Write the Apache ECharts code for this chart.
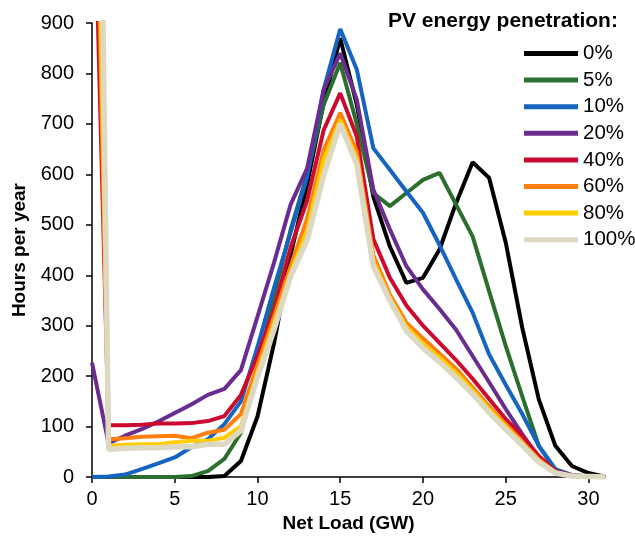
<!DOCTYPE html>
<html>
<head>
<meta charset="utf-8">
<script src="https://cdn.jsdelivr.net/npm/echarts@6/dist/echarts.min.js"></script>
<style>
  html, body { margin: 0; padding: 0; background: #fff; }
  #main { width: 635px; height: 538px; }
</style>
</head>
<body>
<div id="main"></div>
<script>
var myChart = echarts.init(document.getElementById('main'));

// net load in GW
var netLoad = [0, 1, 2, 3, 4, 5, 6, 7, 8, 9, 10, 11, 12, 13, 14, 15,
               16, 17, 18, 19, 20, 21, 22, 23, 24, 25, 26, 27, 28, 29, 30, 31];

// hours per year for each PV penetration level
var pv0   = [0, 0, 0, 0, 0, 0, 0, 0, 2, 32, 120, 265, 440, 580, 742, 870,
             738, 556, 457, 385, 395, 451, 543, 624, 593, 465, 296, 154, 62, 22, 8, 1];
var pv5   = [0, 0, 0, 0, 0, 0, 2, 12, 36, 88, 215, 360, 490, 600, 738, 821,
             700, 563, 537, 563, 589, 603, 540, 477, 368, 260, 160, 62, 14, 4, 1, 0];
var pv10  = [0, 1, 5, 16, 27, 39, 59, 75, 105, 150, 258, 375, 485, 595, 768, 888,
             808, 652, 609, 566, 524, 460, 392, 326, 243, 183, 125, 62, 16, 4, 1, 0];
var pv20  = [227, 67, 82, 95, 110, 127, 144, 163, 175, 212, 318, 425, 540, 612, 768, 840,
             748, 570, 491, 418, 372, 333, 292, 240, 188, 135, 85, 38, 10, 3, 1, 0];
var pv40  = [1350, 103, 103, 104, 106, 106, 107, 111, 121, 163, 240, 332, 455, 548, 688, 761,
             675, 472, 395, 340, 300, 266, 232, 195, 155, 115, 82, 42, 12, 3, 1, 0];
var pv60  = [1630, 75, 77, 80, 81, 82, 77, 88, 94, 125, 222, 318, 418, 512, 648, 722,
             645, 440, 362, 306, 275, 245, 215, 178, 140, 105, 70, 35, 10, 2, 1, 0];
var pv80  = [1845, 62, 64, 65, 65, 69, 72, 72, 78, 101, 208, 305, 405, 490, 630, 708,
             632, 428, 355, 298, 265, 237, 207, 172, 135, 100, 67, 32, 9, 2, 1, 0];
var pv100 = [2580, 55, 57, 58, 58, 60, 60, 65, 65, 92, 198, 292, 398, 470, 598, 700,
             620, 418, 350, 290, 256, 228, 198, 165, 128, 95, 63, 30, 8, 2, 1, 0];

var seriesNames = ['0%', '5%', '10%', '20%', '40%', '60%', '80%', '100%'];
var seriesData = [pv0, pv5, pv10, pv20, pv40, pv60, pv80, pv100];
var colors = ['#000000', '#2b6e2e', '#1565c0', '#6a2c8f', '#cc0a2f', '#ff7f0e', '#ffcc00', '#ddd8c2'];
var widths = [4, 4, 4, 4, 4, 4, 4, 5.5];

var yTicks = [0, 100, 200, 300, 400, 500, 600, 700, 800, 900];

var series = [];
for (var i = 0; i < seriesNames.length; i++) {
  series.push({
    name: seriesNames[i],
    type: 'line',
    data: seriesData[i],
    showSymbol: false,
    symbol: 'none',
    clip: true,
    lineStyle: { color: colors[i], width: widths[i] },
    itemStyle: { color: colors[i] },
    emphasis: { disabled: true }
  });
}

var option = {
  animation: false,
  color: colors,
  title: {
    text: 'PV energy penetration:',
    left: 383,
    top: 6,
    textStyle: { fontFamily: 'Liberation Sans', fontSize: 21, fontWeight: 'bold', color: '#000' }
  },
  legend: {
    data: seriesNames,
    orient: 'vertical',
    left: 524,
    top: 43,
    icon: 'rect',
    itemWidth: 54,
    itemHeight: 5,
    itemGap: 5.6,
    padding: 0,
    textStyle: { fontFamily: 'Liberation Sans', fontSize: 20.5, color: '#000', lineHeight: 20 }
  },
  grid: { left: 92, right: 30, top: 23, bottom: 60, containLabel: false },
  xAxis: {
    type: 'category',
    data: netLoad,
    boundaryGap: false,
    name: 'Net Load (GW)',
    nameLocation: 'middle',
    nameGap: 36,
    nameTextStyle: { fontFamily: 'Liberation Sans', fontSize: 19, fontWeight: 'bold', color: '#000' },
    axisLine: { lineStyle: { color: '#000', width: 1.5 } },
    axisTick: { interval: 4, length: 6, lineStyle: { color: '#000', width: 1.5 } },
    axisLabel: { interval: 4, margin: 12, fontFamily: 'Liberation Sans', fontSize: 20, color: '#000' },
    splitLine: { show: false }
  },
  yAxis: {
    type: 'value',
    min: yTicks[0],
    max: yTicks[yTicks.length - 1],
    interval: 100,
    name: 'Hours per year',
    nameLocation: 'middle',
    nameGap: 61,
    nameTextStyle: { fontFamily: 'Liberation Sans', fontSize: 19, fontWeight: 'bold', color: '#000' },
    axisLine: { show: true, lineStyle: { color: '#000', width: 1.5 } },
    axisTick: { show: true, length: 6, lineStyle: { color: '#000', width: 1.5 } },
    axisLabel: { margin: 18, fontFamily: 'Liberation Sans', fontSize: 20, color: '#000' },
    splitLine: { show: false }
  },
  series: series
};

myChart.setOption(option);
</script>
</body>
</html>
